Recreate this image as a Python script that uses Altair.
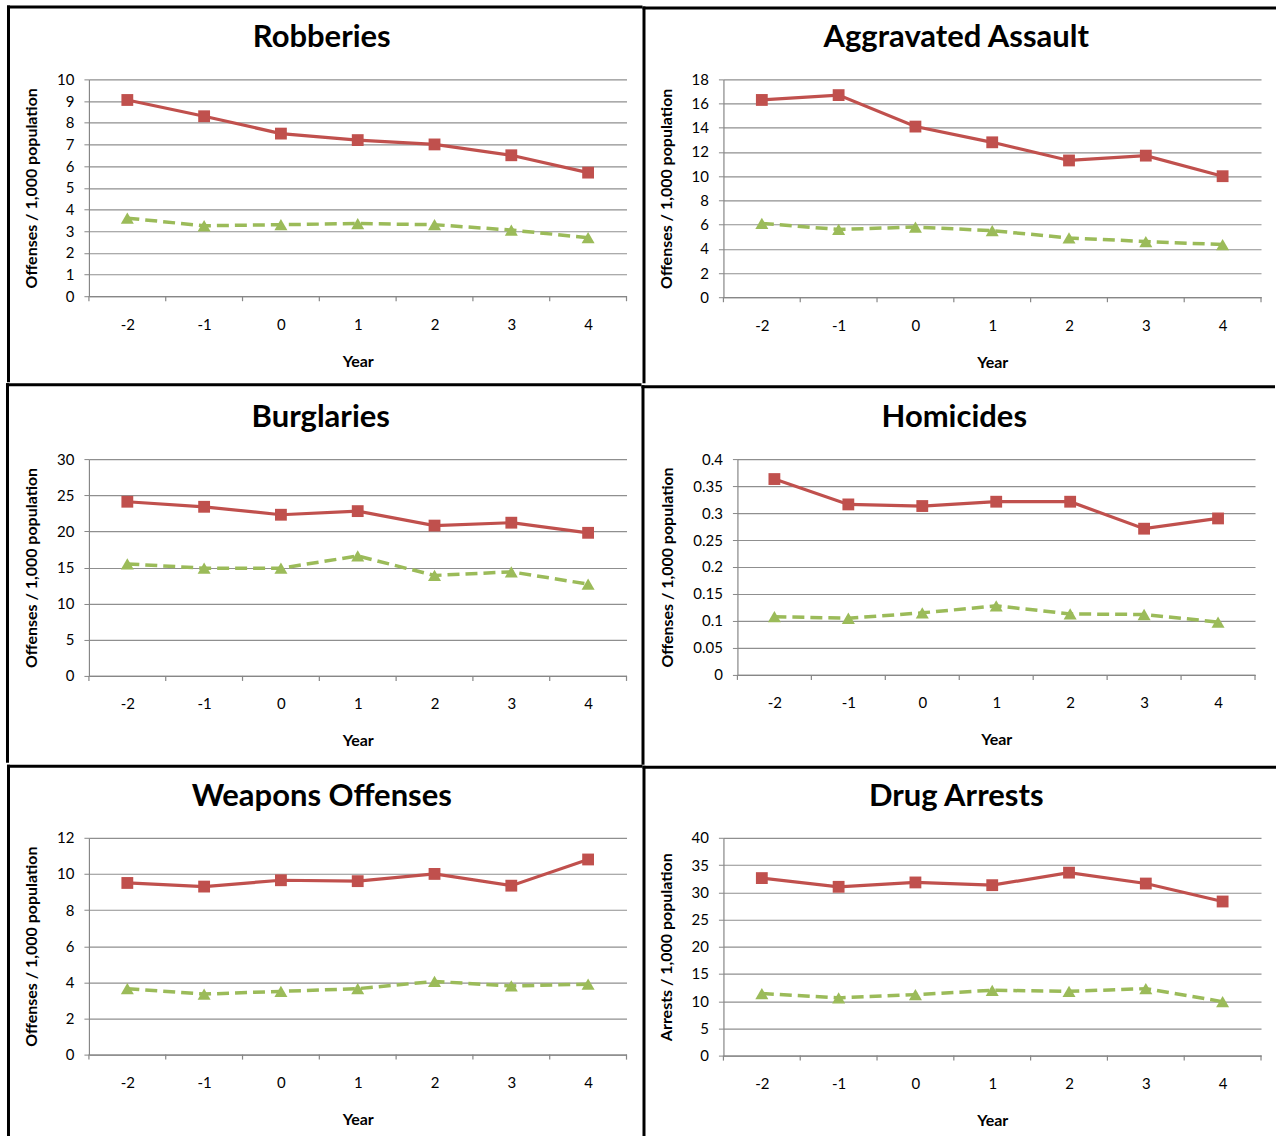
import altair as alt
import pandas as pd

# ---------------- data ----------------
years = [-2, -1, 0, 1, 2, 3, 4]
band_edges = [-2.5, -1.5, -0.5, 0.5, 1.5, 2.5, 3.5, 4.5]

titles = ["Robberies", "Aggravated Assault", "Burglaries",
          "Homicides", "Weapons Offenses", "Drug Arrests"]
y_titles = ["Offenses / 1,000 population"] * 5 + ["Arrests / 1,000 population"]

robberies_red = [9.05, 8.3, 7.5, 7.2, 7.0, 6.5, 5.7]
robberies_green = [3.6, 3.25, 3.3, 3.35, 3.3, 3.05, 2.7]
assault_red = [16.3, 16.7, 14.1, 12.8, 11.3, 11.7, 10.0]
assault_green = [6.1, 5.6, 5.8, 5.5, 4.9, 4.6, 4.35]
burglaries_red = [24.1, 23.4, 22.3, 22.8, 20.8, 21.2, 19.8]
burglaries_green = [15.5, 14.9, 14.9, 16.6, 13.9, 14.4, 12.7]
homicides_red = [0.363, 0.316, 0.313, 0.321, 0.321, 0.271, 0.290]
homicides_green = [0.108, 0.105, 0.115, 0.128, 0.113, 0.112, 0.098]
weapons_red = [9.5, 9.3, 9.65, 9.6, 10.0, 9.35, 10.8]
weapons_green = [3.65, 3.35, 3.5, 3.65, 4.05, 3.8, 3.9]
drugs_red = [32.6, 31.0, 31.8, 31.3, 33.6, 31.6, 28.3]
drugs_green = [11.4, 10.6, 11.2, 12.0, 11.8, 12.3, 9.9]

red_series = [robberies_red, assault_red, burglaries_red,
              homicides_red, weapons_red, drugs_red]
green_series = [robberies_green, assault_green, burglaries_green,
                homicides_green, weapons_green, drugs_green]

y_max = [10, 18, 30, 0.4, 12, 40]
y_step = [1, 2, 5, 0.05, 2, 5]

# ---------------- layout (pixels) ----------------
# panel boxes (x, y, w, h) and plot areas (x, y, w, h), absolute page coordinates
boxes = [(6, 5, 636, 377), (642, 5, 634, 377),
         (6, 382, 636, 380), (642, 382, 634, 380),
         (6, 762, 636, 374), (642, 762, 634, 374)]
plots = [(88, 79, 538, 217), (723, 78, 538, 218),
         (89, 458, 538, 217), (738, 456, 518, 216),
         (88, 835, 538, 217), (723, 834, 538, 218)]
title_centers = [(321, 38), (956, 37), (321, 417), (955, 415), (321, 794), (956, 793)]
BORDER = 3

RED = "#C0504D"
GREEN = "#9BBB59"
GRID = "#8F8F8F"
AXIS = "#878787"
FONT = "Lato"


def panel(i):
    bx, by, bw, bh = boxes[i]
    px, py, pw, ph = plots[i]
    tx, ty = title_centers[i]

    n_ticks = int(round(y_max[i] / y_step[i]))
    y_values = [round(k * y_step[i], 4) for k in range(n_ticks + 1)]

    xscale = alt.Scale(domain=[-2.5, 4.5], nice=False, zero=False)
    yscale = alt.Scale(domain=[0, y_max[i]], nice=False, zero=True)

    x_axis = alt.Axis(values=years, labelExpr="'' + datum.value", grid=False, ticks=False,
                      tickSize=0, labelPadding=21, labelFont=FONT, labelFontSize=15,
                      labelColor="#000000",
                      title="Year", titleFont=FONT, titleFontSize=16, titleFontWeight="bold",
                      titleColor="#000000", titlePadding=21,
                      domainColor=AXIS, domainWidth=1.2)
    y_axis = alt.Axis(values=y_values, format=".2~f", grid=True, gridColor=GRID, gridWidth=1.2,
                      tickSize=5, tickColor=AXIS, labelPadding=10, labelFont=FONT,
                      labelFontSize=15, labelColor="#000000",
                      title=y_titles[i], titleFont=FONT, titleFontSize=16,
                      titleFontWeight="bold", titleColor="#000000", titlePadding=17,
                      domainColor=AXIS, domainWidth=1.2)

    X = alt.X("Year:Q", scale=xscale, axis=x_axis)
    Y = alt.Y("Value:Q", scale=yscale, axis=y_axis)

    red_df = pd.DataFrame({"Year": years, "Value": red_series[i]})
    green_df = pd.DataFrame({"Year": years, "Value": green_series[i]})
    edge_df = pd.DataFrame({"Year": band_edges})
    one = alt.Data(values=[{"k": 0}])

    # invisible box that fixes the panel's bounds
    box = alt.Chart(one).mark_rect(fill="white", fillOpacity=0).encode(
        x=alt.value(bx - px), x2=alt.value(bx - px + bw),
        y=alt.value(by - py), y2=alt.value(by - py + bh))
    # black frame lines on the left and top edge (filled rects, no stroke)
    left_border = alt.Chart(one).mark_rect(fill="black").encode(
        x=alt.value(bx - px), x2=alt.value(bx - px + BORDER),
        y=alt.value(by - py), y2=alt.value(by - py + bh))
    top_border = alt.Chart(one).mark_rect(fill="black").encode(
        x=alt.value(bx - px), x2=alt.value(bx - px + bw),
        y=alt.value(by - py), y2=alt.value(by - py + BORDER))

    ticks = alt.Chart(edge_df).mark_rule(color=AXIS, strokeWidth=1.2).encode(
        x=X, y=alt.value(ph), y2=alt.value(ph + 5))

    green_line = alt.Chart(green_df).mark_line(color=GREEN, strokeWidth=3.5,
                                               strokeDash=[12, 6]).encode(x=X, y=Y)
    green_pts = alt.Chart(green_df).mark_point(shape="triangle-up", filled=True, size=170,
                                               color=GREEN, opacity=1).encode(x=X, y=Y)
    red_line = alt.Chart(red_df).mark_line(color=RED, strokeWidth=3.2).encode(x=X, y=Y)
    red_pts = alt.Chart(red_df).mark_point(shape="square", filled=True, size=140,
                                           color=RED, opacity=1).encode(x=X, y=Y)

    title = alt.Chart(one).mark_text(text=titles[i], font=FONT, fontSize=31, fontWeight="bold",
                                     color="black", align="center", baseline="middle").encode(
        x=alt.value(tx - px), y=alt.value(ty - py))

    return alt.layer(box, left_border, top_border, ticks, green_line, green_pts,
                     red_line, red_pts, title).properties(width=pw, height=ph)


rows = []
for r in range(3):
    rows.append(alt.hconcat(panel(2 * r), panel(2 * r + 1), spacing=0))

chart = alt.vconcat(*rows, spacing=0).properties(
    padding={"left": 6, "top": 5, "right": 0, "bottom": 0},
    background="white",
).configure_view(strokeWidth=0)

chart.save("out.html", embed_options={"renderer": "svg", "actions": False})
